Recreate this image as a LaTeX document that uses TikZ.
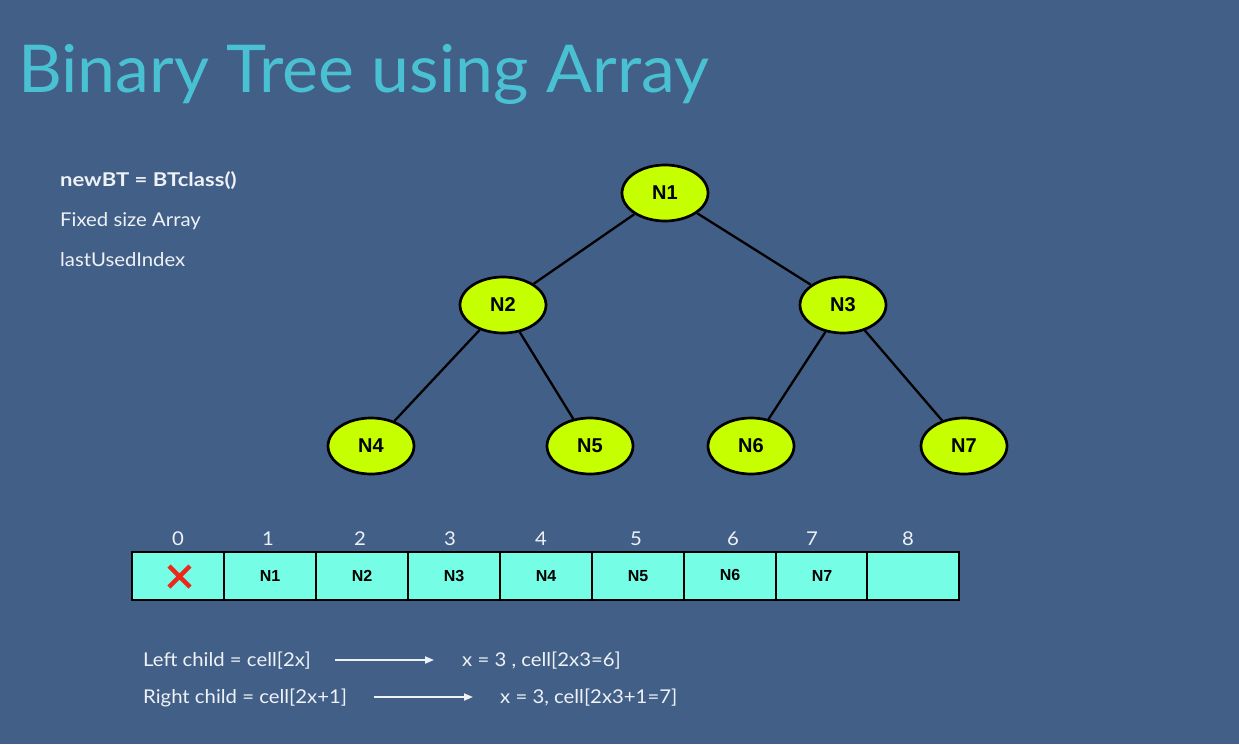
\documentclass[tikz,border=0pt]{standalone}
\usepackage{fontspec}
\setmainfont{Lato}
\newfontfamily\widefont[FakeStretch=1.07]{Lato}
\newfontfamily\widebold[FakeStretch=1.16]{Lato Bold}
\newfontfamily\titlefont[FakeStretch=1.03]{Lato}
\newfontfamily\labelfont{Liberation Sans}
\usetikzlibrary{shapes.geometric,arrows.meta}
\definecolor{slidebg}{RGB}{66,95,135}
\definecolor{titlecyan}{RGB}{74,193,210}
\definecolor{treenode}{RGB}{198,255,0}
\definecolor{cellfill}{RGB}{118,253,230}
\definecolor{softwhite}{RGB}{238,242,246}
\definecolor{crossred}{RGB}{236,40,28}
\begin{document}
\begin{tikzpicture}[x=1pt,y=-1pt,
  treenode/.style={ellipse,draw=black,line width=2.7pt,fill=treenode,
    minimum width=86pt,minimum height=56pt,inner sep=0pt,
    font=\labelfont\bfseries\fontsize{20}{22}\selectfont},
  edge/.style={draw=black,line width=2.3pt},
  cell/.style={rectangle,draw=black,line width=2pt,fill=cellfill,
    minimum width=92pt,minimum height=48pt,inner sep=0pt,
    font=\labelfont\bfseries\fontsize{16}{18}\selectfont},
  idx/.style={text=softwhite,font=\widefont\fontsize{19}{21}\selectfont,anchor=base},
  plain/.style={text=softwhite,anchor=base west,inner sep=0pt,
    font=\widefont\fontsize{19}{21}\selectfont},
  hint/.style={draw=softwhite,line width=1.8pt,-{Triangle[length=9pt,width=7pt]}}]
% background
\fill[slidebg] (0,0) rectangle (1239,744);
\useasboundingbox (0,0) rectangle (1239,744);

% title
\node[anchor=base west,inner sep=0pt,text=titlecyan,font=\titlefont\fontsize{66}{72}\selectfont]
  (title) at (18,92) {Binary Tree using Array};

% notes on the left
\node[plain,font=\widebold\fontsize{19}{21}\selectfont] (t1) at (60,186) {newBT = BTclass()};
\node[plain] (t2) at (60,226) {Fixed size Array};
\node[plain] (t3) at (60,266) {lastUsedIndex};

% tree
\node[treenode] (n1) at (665,193) {N1};
\node[treenode] (n2) at (503,305) {N2};
\node[treenode] (n3) at (843,305) {N3};
\node[treenode] (n4) at (371,446) {N4};
\node[treenode] (n5) at (590,446) {N5};
\node[treenode] (n6) at (751,446) {N6};
\node[treenode] (n7) at (964,446) {N7};
\draw[edge] (n1) -- (n2);
\draw[edge] (n1) -- (n3);
\draw[edge] (n2) -- (n4);
\draw[edge] (n2) -- (n5);
\draw[edge] (n3) -- (n6);
\draw[edge] (n3) -- (n7);

% array cells
\node[cell] (c0) at (178,576) {};
\node[cell] (c1) at (270,576) {N1};
\node[cell] (c2) at (362,576) {N2};
\node[cell] (c3) at (454,576) {N3};
\node[cell] (c4) at (546,576) {N4};
\node[cell] (c5) at (638,576) {N5};
\node[cell] (c6) at (730,576) {\raisebox{2pt}{N6}};
\node[cell] (c7) at (822,576) {N7};
\node[cell] (c8) at (913,576) {};

% unused cell 0
\draw[crossred,line width=4.5pt] (169,566) -- (190,587) (190,566) -- (169,587);

% indices
\node[idx] (i0) at (178,545) {0};
\node[idx] (i1) at (268,545) {1};
\node[idx] (i2) at (360,545) {2};
\node[idx] (i3) at (450,545) {3};
\node[idx] (i4) at (541,545) {4};
\node[idx] (i5) at (636,545) {5};
\node[idx] (i6) at (733,545) {6};
\node[idx] (i7) at (812,545) {7};
\node[idx] (i8) at (908,545) {8};

% child index rules
\node[plain] (l1) at (143,666) {Left child = cell[2x]};
\node[plain] (r1) at (462,666) {x = 3 , cell[2x3=6]};
\node[plain] (l2) at (143,703) {Right child = cell[2x+1]};
\node[plain] (r2) at (500,703) {x = 3, cell[2x3+1=7]};
\coordinate (a1s) at (335,660);
\coordinate (a1e) at (434,660);
\coordinate (a2s) at (374,697);
\coordinate (a2e) at (473,697);
\draw[hint] (a1s) -- (a1e);
\draw[hint] (a2s) -- (a2e);
\end{tikzpicture}
\end{document}
